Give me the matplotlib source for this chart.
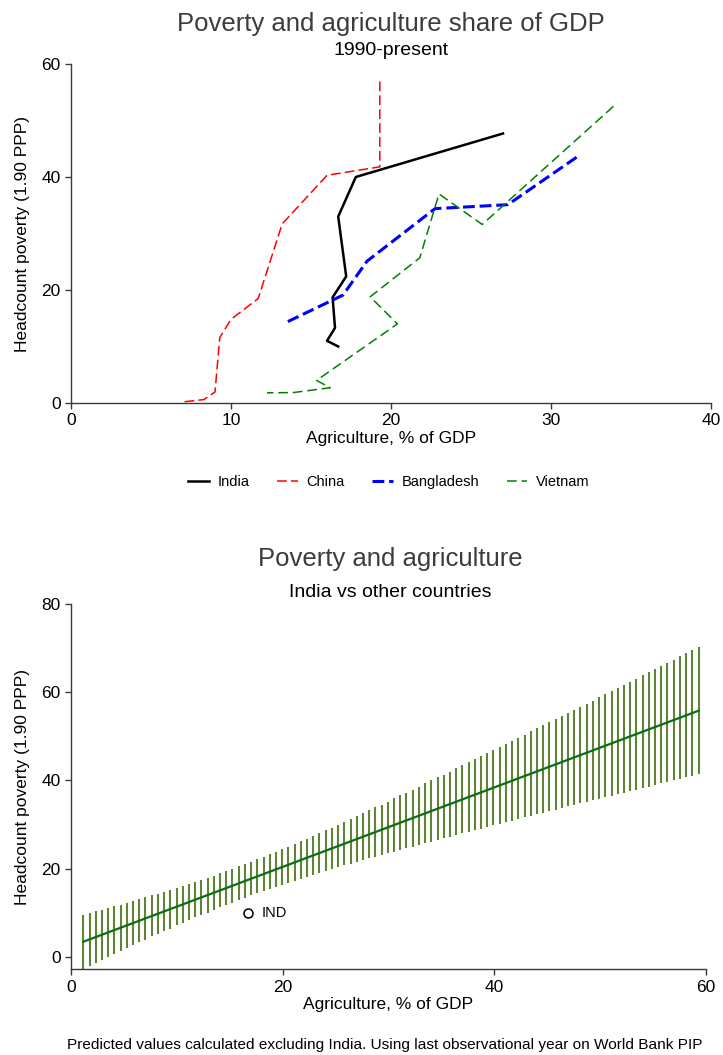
import matplotlib
matplotlib.use("Agg")
import matplotlib.pyplot as plt

plt.rcParams['font.family'] = ['Liberation Sans', 'DejaVu Sans']
plt.rcParams['lines.scale_dashes'] = False

# ---------------- data: top panel ----------------
india_x = [27.0, 17.8, 16.7, 17.2, 16.35, 16.5, 16.0, 16.7]
india_y = [47.7, 40.0, 33.0, 22.4, 18.7, 13.3, 11.0, 10.0]
china_x = [19.3, 19.3, 16.0, 13.2, 11.7, 10.0, 9.3, 9.0, 8.3, 7.0]
china_y = [56.9, 41.8, 40.3, 31.7, 18.5, 14.8, 11.6, 1.95, 0.6, 0.2]
bangl_x = [31.6, 27.3, 22.75, 18.5, 17.0, 13.4]
bangl_y = [43.5, 35.1, 34.4, 25.1, 19.1, 14.2]
viet_x = [33.9, 25.7, 23.0, 21.8, 18.7, 20.4, 15.35, 16.2, 13.9, 12.25]
viet_y = [52.5, 31.6, 37.0, 25.7, 18.8, 14.0, 4.0, 2.7, 1.85, 1.8]
series_names = ['India', 'China', 'Bangladesh', 'Vietnam']

# ---------------- data: bottom panel ----------------
fit_x = [1.16, 59.3]
fit_y = [3.4, 55.8]
ind_x, ind_y, ind_lab = 16.7, 10.0, "IND"

ci_x = [1.16, 1.75, 2.33, 2.92, 3.51, 4.10, 4.68, 5.27, 5.86, 6.45,
        7.03, 7.62, 8.21, 8.79, 9.38, 9.97, 10.56, 11.14, 11.73, 12.32,
        12.91, 13.49, 14.08, 14.67, 15.25, 15.84, 16.43, 17.02, 17.60, 18.19,
        18.78, 19.37, 19.95, 20.54, 21.13, 21.71, 22.30, 22.89, 23.48, 24.06,
        24.65, 25.24, 25.83, 26.41, 27.00, 27.59, 28.17, 28.76, 29.35, 29.94,
        30.52, 31.11, 31.70, 32.29, 32.87, 33.46, 34.05, 34.63, 35.22, 35.81,
        36.40, 36.98, 37.57, 38.16, 38.75, 39.33, 39.92, 40.51, 41.09, 41.68,
        42.27, 42.86, 43.44, 44.03, 44.62, 45.21, 45.79, 46.38, 46.97, 47.55,
        48.14, 48.73, 49.32, 49.90, 50.49, 51.08, 51.67, 52.25, 52.84, 53.43,
        54.01, 54.60, 55.19, 55.78, 56.36, 56.95, 57.54, 58.13, 58.71, 59.30]
ci_lo = [-2.7, -2.0, -1.4, -0.7, 0.0, 0.6, 1.3, 2.0, 2.6, 3.3,
         3.9, 4.6, 5.2, 5.8, 6.4, 7.1, 7.7, 8.3, 8.9, 9.5,
         10.0, 10.6, 11.2, 11.7, 12.3, 12.8, 13.3, 13.9, 14.4, 14.9,
         15.4, 15.8, 16.3, 16.8, 17.2, 17.7, 18.1, 18.6, 19.0, 19.4,
         19.9, 20.3, 20.7, 21.1, 21.5, 21.9, 22.3, 22.7, 23.1, 23.5,
         23.8, 24.2, 24.6, 25.0, 25.4, 25.7, 26.1, 26.5, 26.9, 27.2,
         27.6, 28.0, 28.3, 28.7, 29.0, 29.4, 29.8, 30.1, 30.5, 30.8,
         31.2, 31.6, 31.9, 32.3, 32.6, 33.0, 33.3, 33.7, 34.1, 34.4,
         34.8, 35.1, 35.5, 35.8, 36.2, 36.5, 36.9, 37.2, 37.6, 37.9,
         38.3, 38.6, 39.0, 39.3, 39.7, 40.0, 40.4, 40.7, 41.1, 41.4]
ci_hi = [9.5, 9.9, 10.3, 10.7, 11.1, 11.4, 11.8, 12.2, 12.7, 13.1,
         13.5, 13.9, 14.3, 14.7, 15.2, 15.6, 16.1, 16.5, 17.0, 17.5,
         17.9, 18.4, 18.9, 19.4, 19.9, 20.5, 21.0, 21.5, 22.1, 22.6,
         23.2, 23.8, 24.4, 25.0, 25.6, 26.2, 26.8, 27.4, 28.0, 28.7,
         29.3, 29.9, 30.6, 31.2, 31.9, 32.5, 33.2, 33.9, 34.5, 35.2,
         35.9, 36.6, 37.2, 37.9, 38.6, 39.3, 40.0, 40.7, 41.3, 42.0,
         42.7, 43.4, 44.1, 44.8, 45.5, 46.2, 46.9, 47.6, 48.3, 49.0,
         49.7, 50.4, 51.1, 51.8, 52.5, 53.2, 53.9, 54.6, 55.3, 56.0,
         56.7, 57.4, 58.1, 58.8, 59.6, 60.3, 61.0, 61.7, 62.4, 63.1,
         63.8, 64.5, 65.2, 65.9, 66.6, 67.4, 68.1, 68.8, 69.5, 70.2]

top_xticks = [0, 10, 20, 30, 40]
top_yticks = [0, 20, 40, 60]
bot_xticks = [0, 20, 40, 60]
bot_yticks = [0, 20, 40, 60, 80]

W, H = 723, 1055
fig = plt.figure(figsize=(W / 100, H / 100), dpi=100)


def fx(px):
    return px / W


def fy(py):
    return 1 - py / H


axcol = '#3a3a3a'


def style(ax):
    for s in ['top', 'right']:
        ax.spines[s].set_visible(False)
    for s in ['left', 'bottom']:
        ax.spines[s].set_color(axcol)
        ax.spines[s].set_linewidth(1.0)
    ax.tick_params(direction='out', length=4.5, width=1.0, color=axcol,
                   labelsize=12.5, pad=3)


# ---------------- top panel ----------------
ax1 = fig.add_axes([fx(71), fy(403), (711 - 71) / W, (403 - 64) / H])
style(ax1)
ax1.plot(india_x, india_y, color='black', lw=1.8, label=series_names[0])
ax1.plot(china_x, china_y, color='red', lw=1.1, dashes=(7, 3), label=series_names[1])
ax1.plot(bangl_x, bangl_y, color='blue', lw=2.2, dashes=(8.5, 3.5), label=series_names[2])
ax1.plot(viet_x, viet_y, color='#008000', lw=1.1, dashes=(7, 3.5), label=series_names[3])
ax1.set_xlim(0, 40)
ax1.set_ylim(0, 60)
ax1.set_xticks(top_xticks)
ax1.set_yticks(top_yticks)
ax1.set_xlabel('Agriculture, % of GDP', fontsize=12.5, labelpad=2)
ax1.set_ylabel('Headcount poverty (1.90 PPP)', fontsize=12.5, labelpad=8)
fig.text(fx(391), fy(31), 'Poverty and agriculture share of GDP', ha='center',
         va='baseline', fontsize=18.5, color='#3c3c3c')
fig.text(fx(391), fy(55), '1990-present', ha='center', va='baseline', fontsize=14)
fig.legend(*ax1.get_legend_handles_labels(), loc='center', ncol=4,
           bbox_to_anchor=(fx(389), fy(482)), frameon=False, fontsize=10.5,
           handlelength=1.4, handletextpad=0.6, columnspacing=1.9)

# ---------------- bottom panel ----------------
ax2 = fig.add_axes([fx(71), fy(969.3), (706 - 71) / W, (969.3 - 604) / H])
style(ax2)
ax2.vlines(ci_x, ci_lo, ci_hi, color='#5f8436', lw=1.5)
ax2.plot(fit_x, fit_y, color='#0a6e12', lw=1.6)
ax2.plot([ind_x], [ind_y], 'o', mfc='none', mec='black', mew=1.1, ms=6.5)
ax2.annotate(ind_lab, (ind_x, ind_y), xytext=(10, 0), textcoords='offset points',
             va='center', ha='left', fontsize=10.5)
ax2.set_xlim(0, 60)
ax2.set_ylim(-2.85, 80)
ax2.set_xticks(bot_xticks)
ax2.set_yticks(bot_yticks)
ax2.set_xlabel('Agriculture, % of GDP', fontsize=12.5, labelpad=2)
ax2.set_ylabel('Headcount poverty (1.90 PPP)', fontsize=12.5, labelpad=8)
fig.text(fx(390), fy(566), 'Poverty and agriculture', ha='center',
         va='baseline', fontsize=18.5, color='#3c3c3c')
fig.text(fx(390), fy(597), 'India vs other countries', ha='center', va='baseline', fontsize=14)
fig.text(fx(384.5), fy(1045),
         'Predicted values calculated excluding India. Using last observational year on World Bank PIP',
         ha='center', va='center', fontsize=11.1)

fig.savefig('out.png', dpi=100)
